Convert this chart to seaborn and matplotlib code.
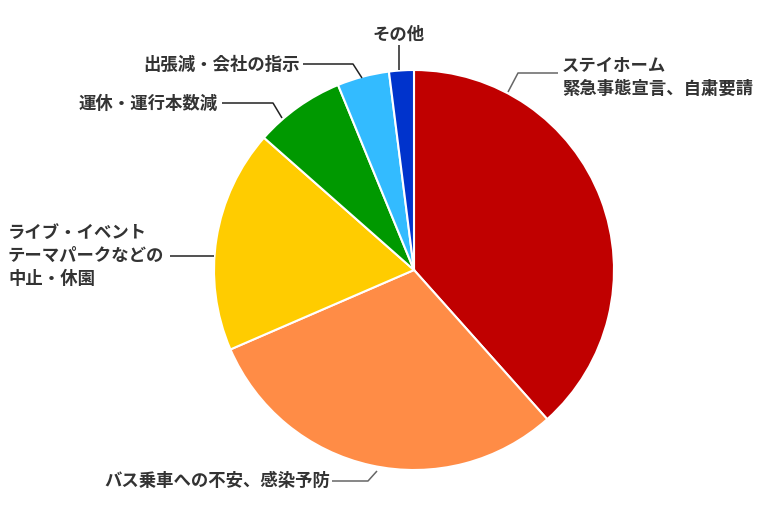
import matplotlib
matplotlib.use("Agg")
import matplotlib.pyplot as plt
import seaborn as sns

# share of answers (%), clockwise from 12 o'clock
categories = [
    "ステイホーム\n緊急事態宣言、自粛要請",
    "バス乗車への不安、感染予防",
    "ライブ・イベント\nテーマパークなどの\n中止・休園",
    "運休・運行本数減",
    "出張減・会社の指示",
    "その他",
]
shares = [38.4, 30.1, 18.0, 7.3, 4.2, 2.0]
colors = ["#C00000", "#FF8C46", "#FFCC00", "#009900", "#33BBFF", "#0033CC"]

sns.set_theme(style="white")
plt.rcParams['font.family'] = ['Noto Sans CJK JP', 'DejaVu Sans']

W, H = 760, 507
CX, CY, R = 414, 270, 200


def px(x, y):
    # pixel position -> data coords (pie radius = 1)
    return (x - CX) / R, (CY - y) / R


# label placement in pixels: text pos, alignment, leader path, leader colour
layout = [
    ((562, 77), "left", [(558, 73), (518, 73), (508, 92)], "#666666"),
    ((330, 481), "right", [(332, 481), (368, 481), (377, 471)], "#666666"),
    ((8, 256), "left", [(170, 256), (214, 256)], "#222222"),
    ((218, 104), "right", [(222, 103), (273, 103), (282, 118)], "#222222"),
    ((300, 65), "right", [(303, 64), (353, 64), (362, 78)], "#222222"),
    ((399, 35), "center", [(399, 45), (399, 70)], "#222222"),
]

fig = plt.figure(figsize=(W / 100, H / 100), dpi=100)
ax = fig.add_axes([0, 0, 1, 1])

ax.pie(
    shares,
    colors=sns.color_palette(colors),
    startangle=90,
    counterclock=False,
    radius=1,
    wedgeprops=dict(edgecolor="white", linewidth=1.5),
)
ax.set_xlim(px(0, 0)[0], px(W, 0)[0])
ax.set_ylim(px(0, H)[1], px(0, 0)[1])
ax.axis("off")

for label, (pos, ha, path, lc) in zip(categories, layout):
    tx, ty = px(*pos)
    ax.text(tx, ty, label, ha=ha, va="center", multialignment=ha,
            fontsize=12.5, fontweight="bold", color="#333333", linespacing=1.35)
    xs, ys = zip(*[px(*p) for p in path])
    ax.plot(xs, ys, color=lc, lw=1.1, solid_capstyle="butt")

plt.savefig("out.png", dpi=100)
